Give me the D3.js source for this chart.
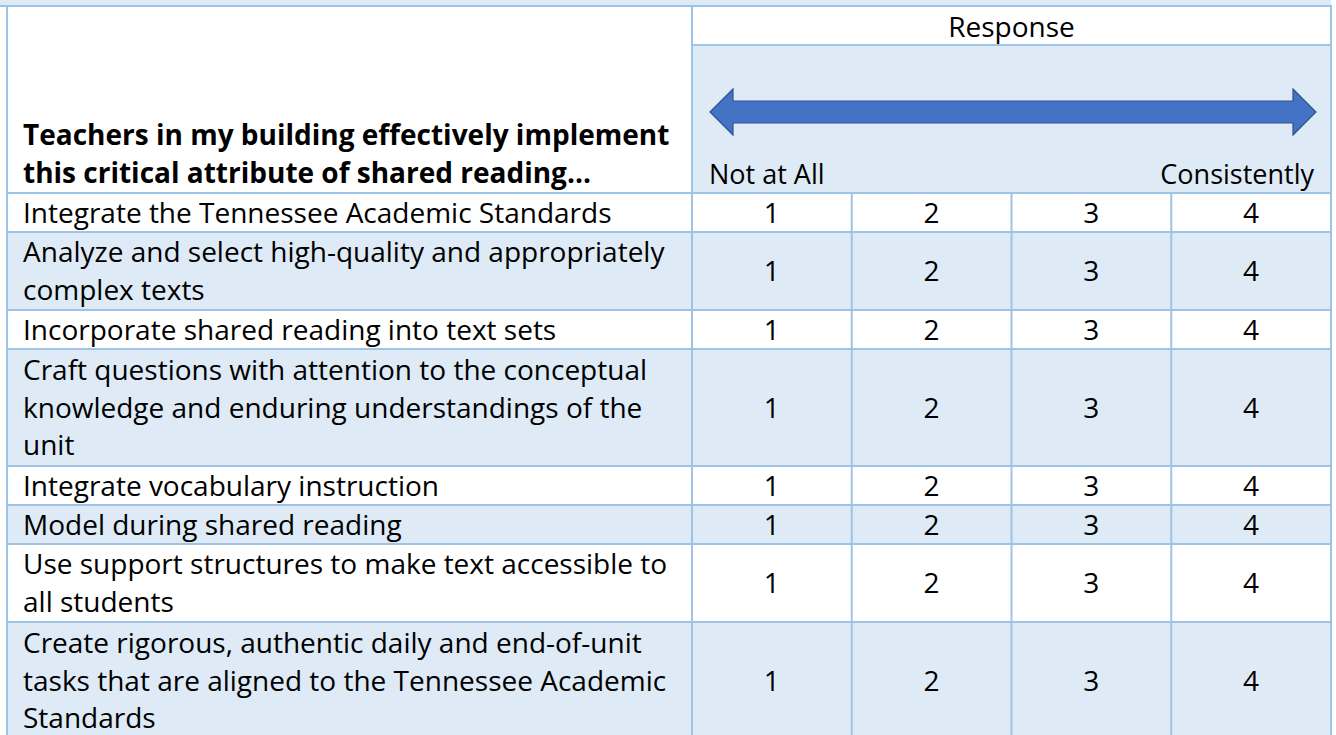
<!DOCTYPE html>
<html>
<head>
<meta charset="utf-8">
<script src="https://cdn.jsdelivr.net/npm/d3@7"></script>
<style>
  html, body { margin: 0; padding: 0; background: #fff; }
  svg { display: block; font-family: "Open Sans", sans-serif; }
</style>
</head>
<body>
<svg width="1336" height="735"></svg>
<script>
// table content
var headerLines = ["Teachers in my building effectively implement", "this critical attribute of shared reading..."];
var responseTitle = "Response";
var scaleEnds = ["Not at All", "Consistently"];
var responseValues = [1, 2, 3, 4];
var statementLines = [
  ["Integrate the Tennessee Academic Standards"],
  ["Analyze and select high-quality and appropriately", "complex texts"],
  ["Incorporate shared reading into text sets"],
  ["Craft questions with attention to the conceptual", "knowledge and enduring understandings of the", "unit"],
  ["Integrate vocabulary instruction"],
  ["Model during shared reading"],
  ["Use support structures to make text accessible to", "all students"],
  ["Create rigorous, authentic daily and end-of-unit", "tasks that are aligned to the Tennessee Academic", "Standards"]
];

var blue = "#deeaf6",
    border = "#9dc3e6",
    arrowFill = "#4472c4",
    arrowStroke = "#2f528f";

var svg = d3.select("svg");

var left = 7, split = 692, right = 1331;
var tableTop = 6, subRow = 45, headBottom = 193;
var lineH = 39, textLineH = 37.5, fs = 28;

// rows laid out in "line units"
var starts = [], acc = 0;
statementLines.forEach(function(l) { starts.push(acc); acc += l.length; });
var y = d3.scaleLinear().domain([0, acc]).range([headBottom, headBottom + lineH * acc]);

var x = d3.scaleBand().domain(responseValues).range([split, right]);

// top strip (title row, cut off)
svg.append("rect").attr("x", 0).attr("y", 0).attr("width", right).attr("height", tableTop).attr("fill", blue);

// header backgrounds
svg.append("rect").attr("x", left).attr("y", tableTop).attr("width", split - left).attr("height", headBottom - tableTop).attr("fill", "#fff");
svg.append("rect").attr("x", split).attr("y", subRow).attr("width", right - split).attr("height", headBottom - subRow).attr("fill", blue);

// row backgrounds
var rows = svg.selectAll(".row")
  .data(statementLines)
  .enter().append("g")
    .attr("class", "row");

rows.append("rect")
  .attr("x", left)
  .attr("y", function(d, i) { return y(starts[i]); })
  .attr("width", right - left)
  .attr("height", function(d, i) { return y(starts[i] + d.length) - y(starts[i]); })
  .attr("fill", function(d, i) { return i % 2 ? blue : "#fff"; });

// statement text
rows.each(function(d, i) {
  var g = d3.select(this);
  var cy = (y(starts[i]) + y(starts[i] + d.length)) / 2;
  var t = g.append("text").attr("font-size", fs).attr("fill", "#000");
  d.forEach(function(line, k) {
    t.append("tspan")
      .attr("x", 23)
      .attr("y", cy + (k - (d.length - 1) / 2) * textLineH)
      .attr("dy", "0.36em")
      .text(line);
  });

  g.selectAll(".num")
    .data(responseValues)
    .enter().append("text")
      .attr("class", "num")
      .attr("x", function(v) { return x(v) + x.bandwidth() / 2; })
      .attr("y", cy)
      .attr("dy", "0.36em")
      .attr("text-anchor", "middle")
      .attr("font-size", fs)
      .text(function(v) { return v; });
});

// header text
var ht = svg.append("text").attr("font-size", fs).attr("font-weight", "bold");
headerLines.forEach(function(line, k) {
  ht.append("tspan").attr("x", 23).attr("y", 145 + k * 38).text(line);
});

svg.append("text")
  .attr("x", (split + right) / 2)
  .attr("y", 37)
  .attr("text-anchor", "middle")
  .attr("font-size", fs)
  .text(responseTitle);

svg.append("text").attr("x", 709).attr("y", 184).attr("font-size", 27).text(scaleEnds[0]);
svg.append("text").attr("x", 1314).attr("y", 184).attr("text-anchor", "end").attr("font-size", 27).text(scaleEnds[1]);

// double headed arrow
var ax0 = 710, ax1 = 1316, ay = 112, shaft = 11, head = 23, headLen = 23;
var arrow = d3.path();
arrow.moveTo(ax0, ay);
arrow.lineTo(ax0 + headLen, ay - head);
arrow.lineTo(ax0 + headLen, ay - shaft);
arrow.lineTo(ax1 - headLen, ay - shaft);
arrow.lineTo(ax1 - headLen, ay - head);
arrow.lineTo(ax1, ay);
arrow.lineTo(ax1 - headLen, ay + head);
arrow.lineTo(ax1 - headLen, ay + shaft);
arrow.lineTo(ax0 + headLen, ay + shaft);
arrow.lineTo(ax0 + headLen, ay + head);
arrow.closePath();
svg.append("path").attr("d", arrow.toString()).attr("fill", arrowFill).attr("stroke", arrowStroke).attr("stroke-width", 1.2);

// grid lines
var grid = svg.append("g").attr("stroke", border).attr("stroke-width", 2);
var bottom = y(acc);
grid.append("line").attr("x1", 0).attr("x2", right + 1).attr("y1", tableTop).attr("y2", tableTop);
grid.append("line").attr("x1", split).attr("x2", right).attr("y1", subRow).attr("y2", subRow);
starts.concat([acc]).forEach(function(u) {
  grid.append("line").attr("x1", left).attr("x2", right).attr("y1", y(u)).attr("y2", y(u));
});
[left, split, right].forEach(function(v) {
  grid.append("line").attr("x1", v).attr("x2", v).attr("y1", tableTop).attr("y2", bottom);
});
responseValues.slice(1).forEach(function(v) {
  grid.append("line").attr("x1", x(v)).attr("x2", x(v)).attr("y1", headBottom).attr("y2", bottom);
});
</script>
</body>
</html>
